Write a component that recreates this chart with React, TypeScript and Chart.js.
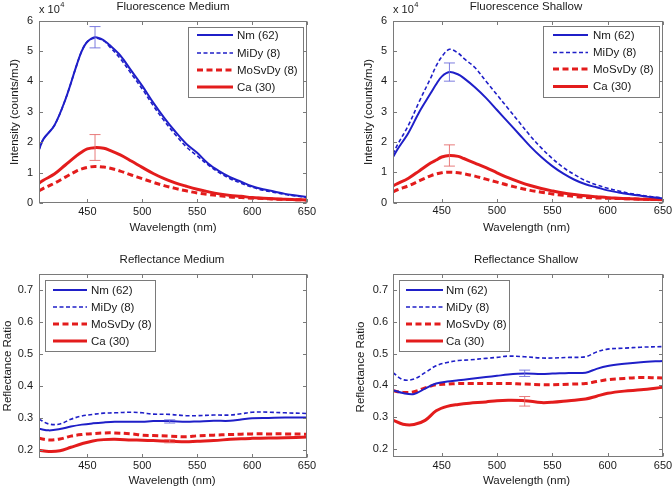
import React, { useEffect, useRef } from "react";
import { Chart, registerables } from "chart.js";
Chart.register(...registerables);

// ---------- DATA ----------
const seriesNames = ["Nm (62)", "MiDy (8)", "MoSvDy (8)", "Ca (30)"];
const xTickValues = [450, 500, 550, 600, 650];
const fluoTickValues = [0, 1, 2, 3, 4, 5, 6];
const reflTickValues = [0.2, 0.3, 0.4, 0.5, 0.6, 0.7];

const fluoWavelengths = [406, 410, 420, 430, 440, 445, 450, 457, 465, 470, 480, 490, 500, 510, 520, 530, 540, 550, 560, 570, 580, 590, 600, 610, 620, 630, 640, 650];

const fluoMediumNm = [1.75, 2.1, 2.55, 3.4, 4.5, 5.0, 5.3, 5.45, 5.35, 5.2, 4.85, 4.35, 3.85, 3.3, 2.8, 2.35, 1.95, 1.65, 1.3, 1.05, 0.85, 0.7, 0.55, 0.45, 0.38, 0.3, 0.25, 0.2];
const fluoMediumMiDy = [1.75, 2.1, 2.55, 3.4, 4.5, 5.0, 5.3, 5.42, 5.33, 5.15, 4.75, 4.25, 3.75, 3.2, 2.7, 2.25, 1.85, 1.55, 1.25, 1.0, 0.8, 0.65, 0.52, 0.42, 0.35, 0.28, 0.23, 0.18];
const fluoMediumMoSvDy = [0.4, 0.48, 0.65, 0.85, 1.05, 1.12, 1.17, 1.2, 1.18, 1.15, 1.05, 0.92, 0.8, 0.68, 0.57, 0.48, 0.4, 0.33, 0.28, 0.24, 0.2, 0.18, 0.16, 0.15, 0.13, 0.12, 0.11, 0.1];
const fluoMediumCa = [0.65, 0.75, 0.95, 1.25, 1.55, 1.68, 1.78, 1.82, 1.8, 1.74, 1.58, 1.38, 1.17, 0.97, 0.8, 0.66, 0.55, 0.45, 0.37, 0.3, 0.25, 0.22, 0.18, 0.16, 0.14, 0.12, 0.11, 0.1];

const fluoShallowNm = [1.5, 1.75, 2.3, 3.0, 3.6, 3.9, 4.15, 4.3, 4.22, 4.1, 3.8, 3.45, 3.05, 2.65, 2.25, 1.85, 1.5, 1.2, 0.95, 0.75, 0.6, 0.5, 0.4, 0.33, 0.27, 0.22, 0.17, 0.14];
const fluoShallowMiDy = [1.6, 1.9, 2.55, 3.35, 4.1, 4.5, 4.8, 5.05, 4.92, 4.75, 4.45, 4.0, 3.55, 3.1, 2.65, 2.2, 1.8, 1.45, 1.15, 0.92, 0.72, 0.58, 0.47, 0.38, 0.3, 0.24, 0.19, 0.15];
const fluoShallowMoSvDy = [0.35, 0.42, 0.55, 0.72, 0.88, 0.94, 0.98, 1.0, 0.98, 0.95, 0.87, 0.77, 0.67, 0.57, 0.48, 0.4, 0.34, 0.28, 0.24, 0.2, 0.17, 0.15, 0.14, 0.13, 0.12, 0.11, 0.1, 0.09];
const fluoShallowCa = [0.55, 0.62, 0.8, 1.05, 1.3, 1.4, 1.5, 1.55, 1.52, 1.45, 1.3, 1.15, 0.98, 0.82, 0.68, 0.56, 0.46, 0.38, 0.31, 0.26, 0.22, 0.19, 0.16, 0.14, 0.12, 0.11, 0.1, 0.09];

const reflWavelengths = [406, 415, 425, 435, 445, 455, 465, 475, 490, 500, 510, 525, 540, 550, 565, 580, 590, 600, 615, 630, 650];

const reflMediumNm = [0.265, 0.26, 0.264, 0.272, 0.278, 0.282, 0.285, 0.287, 0.287, 0.287, 0.289, 0.289, 0.287, 0.288, 0.29, 0.29, 0.294, 0.298, 0.299, 0.3, 0.3];
const reflMediumMiDy = [0.295, 0.28, 0.28, 0.295, 0.305, 0.31, 0.314, 0.315, 0.317, 0.315, 0.311, 0.31, 0.306, 0.306, 0.308, 0.308, 0.312, 0.317, 0.317, 0.315, 0.313];
const reflMediumMoSvDy = [0.235, 0.23, 0.233, 0.242, 0.247, 0.25, 0.252, 0.252, 0.249, 0.245, 0.244, 0.242, 0.24, 0.243, 0.245, 0.247, 0.248, 0.249, 0.249, 0.249, 0.248];
const reflMediumCa = [0.198, 0.194, 0.196, 0.207, 0.218, 0.227, 0.231, 0.232, 0.23, 0.229, 0.228, 0.226, 0.224, 0.226, 0.228, 0.232, 0.234, 0.235, 0.236, 0.237, 0.239];

const reflShallowNm = [0.385, 0.376, 0.373, 0.39, 0.406, 0.412, 0.416, 0.42, 0.426, 0.43, 0.434, 0.437, 0.436, 0.437, 0.439, 0.44, 0.452, 0.461, 0.468, 0.473, 0.477];
const reflShallowMiDy = [0.44, 0.418, 0.42, 0.44, 0.462, 0.472, 0.478, 0.48, 0.485, 0.488, 0.492, 0.49, 0.486, 0.486, 0.488, 0.49, 0.505, 0.514, 0.517, 0.52, 0.522];
const reflShallowMoSvDy = [0.383, 0.378, 0.38, 0.392, 0.402, 0.404, 0.406, 0.406, 0.406, 0.406, 0.406, 0.404, 0.402, 0.402, 0.404, 0.406, 0.412, 0.418, 0.422, 0.425, 0.423];
const reflShallowCa = [0.291, 0.278, 0.277, 0.29, 0.32, 0.334, 0.34, 0.344, 0.348, 0.352, 0.353, 0.352, 0.346, 0.347, 0.352, 0.357, 0.366, 0.375, 0.382, 0.386, 0.394];

// error bars: [seriesIndex, wavelength, low, high]
const fluoMediumErrors = [[0, 457, 5.1, 5.8], [3, 457, 1.4, 2.25]];
const fluoShallowErrors = [[0, 457, 4.0, 4.6], [3, 457, 1.2, 1.9]];
const reflMediumErrors = [[0, 525, 0.283, 0.293], [3, 525, 0.221, 0.231]];
const reflShallowErrors = [[0, 525, 0.428, 0.448], [3, 525, 0.335, 0.365]];

// ---------- STYLE ----------
const BLUE = "#1f1fc8";
const RED = "#e31c1c";
const seriesStyles = [
  { color: BLUE, width: 2, dash: [] as number[] },
  { color: BLUE, width: 1.6, dash: [4, 2.5] },
  { color: RED, width: 3, dash: [6, 3.5] },
  { color: RED, width: 3, dash: [] as number[] },
];
const errColors = ["rgba(110,110,220,0.9)", "", "", "rgba(230,110,110,0.9)"];
const FONT = "'Liberation Sans', Arial, Helvetica, sans-serif";
const TEXT = "#1a1a1a";
const FRAME = "#7a7a7a";

type PanelCfg = {
  left: number; top: number;
  area: { l: number; r: number; t: number; b: number };
  xs: number[]; series: number[][]; errors: number[][];
  yMin: number; yMax: number; yTicks: number[]; decimals: number;
  title: string; titleX: number; titleY: number;
  yTitle: string; yTitleX: number; yTitleY: number;
  xTitleX: number; xTitleY: number;
  mult?: { x: number; y: number };
  legend: { x: number; y: number; w: number; h: number; l0: number; l1: number; tx: number; rows: number[] };
  yPad: number;
};

const panels: PanelCfg[] = [
  {
    left: 0, top: 0,
    area: { l: 39, r: 307, t: 20.5, b: 203 },
    xs: fluoWavelengths,
    series: [fluoMediumNm, fluoMediumMiDy, fluoMediumMoSvDy, fluoMediumCa],
    errors: fluoMediumErrors,
    yMin: 0, yMax: 6, yTicks: fluoTickValues, decimals: 0,
    title: "Fluorescence Medium", titleX: 173, titleY: 7,
    yTitle: "Intensity (counts/mJ)", yTitleX: 15, yTitleY: 112,
    xTitleX: 173, xTitleY: 228,
    mult: { x: 39, y: 10 },
    legend: { x: 188.5, y: 27.5, w: 115, h: 70, l0: 197, l1: 233, tx: 237, rows: [35, 53, 70, 87] },
    yPad: 6,
  },
  {
    left: 336, top: 0,
    area: { l: 57, r: 327, t: 20.5, b: 202.5 },
    xs: fluoWavelengths,
    series: [fluoShallowNm, fluoShallowMiDy, fluoShallowMoSvDy, fluoShallowCa],
    errors: fluoShallowErrors,
    yMin: 0, yMax: 6, yTicks: fluoTickValues, decimals: 0,
    title: "Fluorescence Shallow", titleX: 190, titleY: 6.5,
    yTitle: "Intensity (counts/mJ)", yTitleX: 33, yTitleY: 112,
    xTitleX: 190.5, xTitleY: 228.3,
    mult: { x: 57, y: 10 },
    legend: { x: 207.5, y: 26.5, w: 116, h: 71, l0: 217, l1: 252, tx: 257, rows: [35, 52.5, 69, 86.5] },
    yPad: 6,
  },
  {
    left: 0, top: 244,
    area: { l: 39, r: 307, t: 30, b: 213.5 },
    xs: reflWavelengths,
    series: [reflMediumNm, reflMediumMiDy, reflMediumMoSvDy, reflMediumCa],
    errors: reflMediumErrors,
    yMin: 0.175, yMax: 0.75, yTicks: reflTickValues, decimals: 1,
    title: "Reflectance Medium", titleX: 172, titleY: 15.5,
    yTitle: "Reflectance Ratio", yTitleX: 8, yTitleY: 122,
    xTitleX: 172, xTitleY: 236.5,
    legend: { x: 45.5, y: 36.5, w: 110, h: 71, l0: 53, l1: 87, tx: 91, rows: [46, 63, 80, 97] },
    yPad: 6,
  },
  {
    left: 336, top: 244,
    area: { l: 57, r: 327, t: 30, b: 213 },
    xs: reflWavelengths,
    series: [reflShallowNm, reflShallowMiDy, reflShallowMoSvDy, reflShallowCa],
    errors: reflShallowErrors,
    yMin: 0.175, yMax: 0.75, yTicks: reflTickValues, decimals: 1,
    title: "Reflectance Shallow", titleX: 190, titleY: 15.5,
    yTitle: "Reflectance Ratio", yTitleX: 25, yTitleY: 123,
    xTitleX: 190.5, xTitleY: 236.7,
    legend: { x: 63.5, y: 36.5, w: 110, h: 71, l0: 70, l1: 107, tx: 110, rows: [46, 63, 80, 97] },
    yPad: 5,
  },
];

const W = 336;
const H = 244;

function makeDecor(cfg: PanelCfg) {
  return {
    id: "decor",
    afterDatasetsDraw(chart: any) {
      const ctx = chart.ctx as CanvasRenderingContext2D;
      const xs = chart.scales.x;
      const ys = chart.scales.y;
      const { left, right, top, bottom } = chart.chartArea;
      ctx.save();
      // error bars
      cfg.errors.forEach(([si, wl, lo, hi]) => {
        const px = xs.getPixelForValue(wl);
        const p1 = ys.getPixelForValue(lo);
        const p2 = ys.getPixelForValue(hi);
        ctx.strokeStyle = errColors[si];
        ctx.lineWidth = 1;
        ctx.setLineDash([]);
        ctx.beginPath();
        ctx.moveTo(px, p1); ctx.lineTo(px, p2);
        ctx.moveTo(px - 5.5, p1); ctx.lineTo(px + 5.5, p1);
        ctx.moveTo(px - 5.5, p2); ctx.lineTo(px + 5.5, p2);
        ctx.stroke();
      });
      // frame
      ctx.strokeStyle = FRAME;
      ctx.lineWidth = 1;
      const L = Math.round(left) + 0.5, R = Math.round(right) - 0.5;
      const T = Math.round(top) + 0.5, B = Math.round(bottom) - 0.5;
      ctx.strokeRect(L, T, R - L, B - T);
      // inward ticks
      ctx.beginPath();
      xTickValues.forEach((v) => {
        const p = Math.round(xs.getPixelForValue(v)) + 0.5;
        ctx.moveTo(p, B); ctx.lineTo(p, B - 3.5);
        ctx.moveTo(p, T); ctx.lineTo(p, T + 3.5);
      });
      cfg.yTicks.forEach((v) => {
        const p = Math.round(ys.getPixelForValue(v)) + 0.5;
        ctx.moveTo(L, p); ctx.lineTo(L + 3.5, p);
        ctx.moveTo(R, p); ctx.lineTo(R - 3.5, p);
      });
      ctx.stroke();
      // legend
      const lg = cfg.legend;
      ctx.fillStyle = "#ffffff";
      ctx.fillRect(lg.x, lg.y, lg.w, lg.h);
      ctx.strokeStyle = FRAME;
      ctx.strokeRect(lg.x, lg.y, lg.w, lg.h);
      ctx.font = `11.5px ${FONT}`;
      ctx.textBaseline = "middle";
      ctx.textAlign = "left";
      seriesNames.forEach((name, i) => {
        const st = seriesStyles[i];
        const y = lg.rows[i];
        ctx.strokeStyle = st.color;
        ctx.lineWidth = st.width;
        ctx.setLineDash(st.dash);
        ctx.beginPath();
        ctx.moveTo(lg.l0, y); ctx.lineTo(lg.l1, y);
        ctx.stroke();
        ctx.setLineDash([]);
        ctx.fillStyle = TEXT;
        ctx.fillText(name, lg.tx, y + 0.5);
      });
      ctx.restore();
    },
    afterDraw(chart: any) {
      const ctx = chart.ctx as CanvasRenderingContext2D;
      ctx.save();
      ctx.fillStyle = TEXT;
      ctx.textBaseline = "middle";
      ctx.textAlign = "center";
      ctx.font = `11.5px ${FONT}`;
      ctx.fillText(cfg.title, cfg.titleX, cfg.titleY);
      ctx.fillText("Wavelength (nm)", cfg.xTitleX, cfg.xTitleY);
      ctx.save();
      ctx.translate(cfg.yTitleX, cfg.yTitleY);
      ctx.rotate(-Math.PI / 2);
      ctx.fillText(cfg.yTitle, 0, 0);
      ctx.restore();
      if (cfg.mult) {
        ctx.textAlign = "left";
        ctx.font = `11px ${FONT}`;
        const base = "x 10";
        ctx.fillText(base, cfg.mult.x, cfg.mult.y);
        const w = ctx.measureText(base).width;
        ctx.font = `7.5px ${FONT}`;
        ctx.fillText("4", cfg.mult.x + w + 0.5, cfg.mult.y - 5);
      }
      ctx.restore();
    },
  };
}

function Panel({ cfg }: { cfg: PanelCfg }) {
  const ref = useRef<HTMLCanvasElement>(null);
  useEffect(() => {
    const a = cfg.area;
    const chart = new Chart(ref.current as HTMLCanvasElement, {
      type: "line",
      data: {
        datasets: cfg.series.map((vals, i) => ({
          label: seriesNames[i],
          data: cfg.xs.map((x, j) => ({ x, y: vals[j] })),
          borderColor: seriesStyles[i].color,
          borderWidth: seriesStyles[i].width,
          borderDash: seriesStyles[i].dash,
          pointRadius: 0,
          tension: 0.35,
          fill: false,
        })),
      },
      options: {
        animation: false,
        responsive: false,
        devicePixelRatio: 1,
        events: [],
        layout: { padding: { left: 0, top: a.t, right: W - a.r, bottom: 0 } },
        plugins: { legend: { display: false }, tooltip: { enabled: false }, title: { display: false } },
        scales: {
          x: {
            type: "linear",
            min: 406,
            max: 650,
            grid: { display: false, drawTicks: false },
            border: { display: false },
            afterBuildTicks: (s: any) => { s.ticks = xTickValues.map((v) => ({ value: v })); },
            afterFit: (s: any) => { s.height = H - a.b; s.paddingLeft = 0; s.paddingRight = 0; },
            ticks: {
              padding: 2,
              color: TEXT,
              font: { family: FONT, size: 11 },
              maxRotation: 0,
              autoSkip: false,
              callback: (v: any) => String(v),
            },
          },
          y: {
            type: "linear",
            min: cfg.yMin,
            max: cfg.yMax,
            grid: { display: false, drawTicks: false },
            border: { display: false },
            afterBuildTicks: (s: any) => { s.ticks = cfg.yTicks.map((v) => ({ value: v })); },
            afterFit: (s: any) => { s.width = a.l; s.paddingTop = 0; s.paddingBottom = 0; },
            ticks: {
              padding: cfg.yPad,
              color: TEXT,
              font: { family: FONT, size: 11 },
              autoSkip: false,
              callback: (v: any) => Number(v).toFixed(cfg.decimals),
            },
          },
        },
      },
      plugins: [makeDecor(cfg) as any],
    } as any);
    return () => chart.destroy();
  }, [cfg]);
  return (
    <canvas
      ref={ref}
      width={W}
      height={H}
      style={{ position: "absolute", left: cfg.left, top: cfg.top, width: W, height: H }}
    />
  );
}

export default function App() {
  return (
    <div style={{ position: "fixed", left: 0, top: 0, width: 672, height: 488, background: "#fff" }}>
      {panels.map((p, i) => (
        <Panel key={i} cfg={p} />
      ))}
    </div>
  );
}
